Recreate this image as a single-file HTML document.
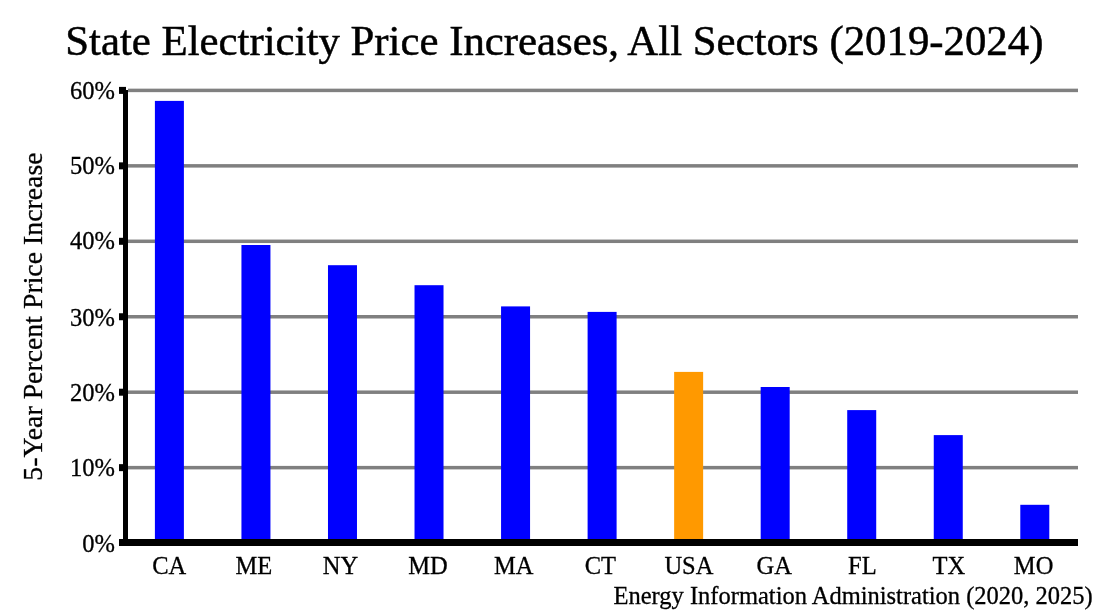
<!DOCTYPE html>
<html><head><meta charset="utf-8"><style>
html,body{margin:0;padding:0;background:#fff;width:1100px;height:614px;overflow:hidden}
svg{display:block;will-change:transform;font-family:"Liberation Serif",serif;fill:#000}
text{stroke:#000;stroke-width:0.3px}
.t{stroke-width:0.5px}
</style></head><body>
<svg width="1100" height="614" viewBox="0 0 1100 614">
<rect width="1100" height="614" fill="#fff"/>
<text class="t" x="65.3" y="55" font-size="42.8">State Electricity Price Increases, All Sectors (2019-2024)</text>
<rect x="128" y="88.65" width="950" height="3.5" fill="#808080"/>
<rect x="128" y="164.10" width="950" height="3.5" fill="#808080"/>
<rect x="128" y="239.55" width="950" height="3.5" fill="#808080"/>
<rect x="128" y="315.00" width="950" height="3.5" fill="#808080"/>
<rect x="128" y="390.45" width="950" height="3.5" fill="#808080"/>
<rect x="128" y="465.90" width="950" height="3.5" fill="#808080"/>
<rect x="154.90" y="100.9" width="29" height="439.10" fill="#0000FF"/>
<rect x="241.44" y="245" width="29" height="295.00" fill="#0000FF"/>
<rect x="327.98" y="265.2" width="29" height="274.80" fill="#0000FF"/>
<rect x="414.52" y="285.2" width="29" height="254.80" fill="#0000FF"/>
<rect x="501.06" y="306.4" width="29" height="233.60" fill="#0000FF"/>
<rect x="587.60" y="311.9" width="29" height="228.10" fill="#0000FF"/>
<rect x="674.14" y="371.9" width="29" height="168.10" fill="#FF9900"/>
<rect x="760.68" y="387" width="29" height="153.00" fill="#0000FF"/>
<rect x="847.22" y="410.1" width="29" height="129.90" fill="#0000FF"/>
<rect x="933.76" y="435.1" width="29" height="104.90" fill="#0000FF"/>
<rect x="1020.30" y="504.8" width="29" height="35.20" fill="#0000FF"/>
<rect x="123" y="90" width="5" height="449" fill="#000"/>
<rect x="119" y="539" width="959" height="7" fill="#000"/>
<rect x="119" y="86.90" width="7" height="7" fill="#000"/>
<rect x="119" y="162.35" width="7" height="7" fill="#000"/>
<rect x="119" y="237.80" width="7" height="7" fill="#000"/>
<rect x="119" y="313.25" width="7" height="7" fill="#000"/>
<rect x="119" y="388.70" width="7" height="7" fill="#000"/>
<rect x="119" y="464.15" width="7" height="7" fill="#000"/>
<text x="114.8" y="98.70" font-size="24.5" text-anchor="end">60%</text>
<text x="114.8" y="174.35" font-size="24.5" text-anchor="end">50%</text>
<text x="114.8" y="249.30" font-size="24.5" text-anchor="end">40%</text>
<text x="114.8" y="326.05" font-size="24.5" text-anchor="end">30%</text>
<text x="114.8" y="401.40" font-size="24.5" text-anchor="end">20%</text>
<text x="114.8" y="476.25" font-size="24.5" text-anchor="end">10%</text>
<text x="114.8" y="552.30" font-size="24.5" text-anchor="end">0%</text>
<text x="169.25" y="573.7" font-size="24.5" text-anchor="middle">CA</text>
<text x="253.94" y="573.7" font-size="24.5" text-anchor="middle">ME</text>
<text x="340.48" y="573.7" font-size="24.5" text-anchor="middle">NY</text>
<text x="427.92" y="573.7" font-size="24.5" text-anchor="middle">MD</text>
<text x="513.76" y="573.7" font-size="24.5" text-anchor="middle">MA</text>
<text x="600.40" y="573.7" font-size="24.5" text-anchor="middle">CT</text>
<text x="688.94" y="573.7" font-size="24.5" text-anchor="middle">USA</text>
<text x="774.28" y="573.7" font-size="24.5" text-anchor="middle">GA</text>
<text x="862.42" y="573.7" font-size="24.5" text-anchor="middle">FL</text>
<text x="948.86" y="573.7" font-size="24.5" text-anchor="middle">TX</text>
<text x="1033.60" y="573.7" font-size="24.5" text-anchor="middle">MO</text>
<text x="613.5" y="603.7" font-size="24.5">Energy Information Administration (2020, 2025)</text>
<text transform="translate(42.4,480.7) rotate(-90)" x="0" y="0" font-size="27.8">5-Year Percent Price Increase</text>
</svg>
</body></html>
